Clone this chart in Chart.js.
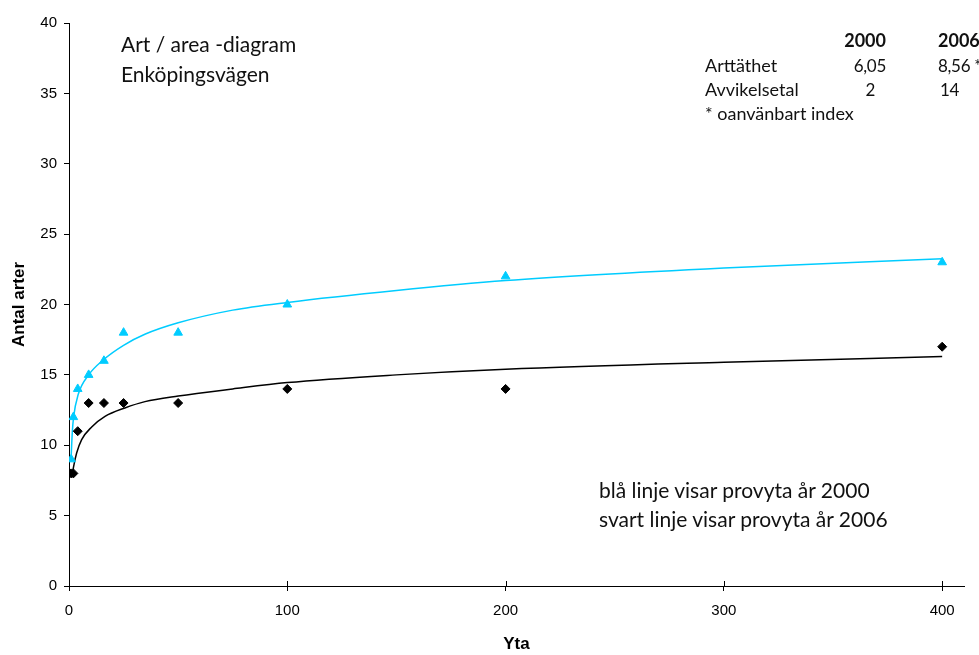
<!DOCTYPE html>
<html>
<head>
<meta charset="utf-8">
<script src="https://cdn.jsdelivr.net/npm/chart.js@4"></script>
<style>
  html, body { margin: 0; padding: 0; background: #fff; }
  #wrap { position: relative; width: 979px; height: 655px; overflow: hidden; }
  .note { position: absolute; font-family: Lato, "Open Sans", sans-serif; color: #111; white-space: nowrap; line-height: 1; }
  .big { font-size: 21px; }
  .tab { font-size: 18px; }
  .num { font-size: 17px; letter-spacing: -0.3px; }
  .b { font-weight: bold; }
</style>
</head>
<body>
<div id="wrap">
  <canvas id="graf" width="979" height="655"></canvas>

  <div class="note big" style="left:121px; top:33px;">Art / area -diagram</div>
  <div class="note big" style="left:121px; top:63px;">Enköpingsvägen</div>

  <div class="note tab b" style="right:93px; top:31px;">2000</div>
  <div class="note tab b" style="left:938px; top:31px;">2006</div>
  <div class="note tab" style="left:705px; top:56px;">Arttäthet</div>
  <div class="note num" style="right:93px; top:57px;">6,05</div>
  <div class="note num" style="left:938px; top:57px;">8,56 *</div>
  <div class="note tab" style="left:705px; top:80px;">Avvikelsetal</div>
  <div class="note num" style="right:104px; top:81px;">2</div>
  <div class="note num" style="left:940px; top:81px;">14</div>
  <div class="note tab" style="left:705px; top:104px;">* oanvänbart index</div>

  <div class="note big" style="left:599px; top:479px;">blå linje visar provyta år 2000</div>
  <div class="note big" style="left:599px; top:508px;">svart linje visar provyta år 2006</div>
</div>
<script>
// provytor (m2) och antal arter
const yta = [1, 2, 4, 9, 16, 25, 50, 100, 200, 400];
const arter2000 = [9, 12, 14, 15, 16, 18, 18, 20, 22, 23];
const arter2006 = [8, 8, 11, 13, 13, 13, 13, 14, 14, 17];

// trendlinjer, avlästa längs kurvorna i bilden
const trendYta2000 = [0.9, 1.5, 2.1, 4.2, 9, 16, 25, 35, 50, 75, 100, 150, 200, 300, 400];
const trend2000 = [8.85, 10.9, 12.0, 13.6, 15.0, 16.1, 17.1, 17.9, 18.7, 19.6, 20.15, 21.0, 21.7, 22.6, 23.25];
const trendYta2006 = [1.5, 2, 3.5, 5.8, 10.4, 16.5, 25.6, 34.8, 50, 75, 100, 150, 200, 300, 400];
const trend2006 = [7.9, 8.4, 9.45, 10.4, 11.3, 12.05, 12.65, 13.1, 13.5, 14.0, 14.45, 15.0, 15.4, 15.9, 16.3];

const xTicks = [0, 100, 200, 300, 400];
const yTicks = [0, 5, 10, 15, 20, 25, 30, 35, 40];

const par = (xs, ys) => xs.map((x, i) => ({ x: x, y: ys[i] }));

const BLA = "#00ccff";
const TYP = "'Liberation Sans', Arial, sans-serif";

// korta streck ovanför x-axeln (korsande tickmarkeringar)
const korsStreck = {
    id: "korsStreck",
    afterDraw(chart) {
        const sx = chart.scales.x;
        const ctx = chart.ctx;
        const y0 = chart.chartArea.bottom;
        ctx.save();
        ctx.strokeStyle = "#000";
        ctx.lineWidth = 1;
        sx.ticks.forEach(t => {
            const px = Math.round(sx.getPixelForValue(t.value)) + 0.5;
            ctx.beginPath();
            ctx.moveTo(px, y0);
            ctx.lineTo(px, y0 - 5);
            ctx.stroke();
        });
        ctx.restore();
    }
};

new Chart(document.getElementById("graf"), {
    type: "scatter",
    data: {
        datasets: [
            {
                label: "trend 2000",
                data: par(trendYta2000, trend2000),
                showLine: true,
                borderColor: BLA,
                borderWidth: 1.5,
                pointRadius: 0,
                cubicInterpolationMode: "monotone",
                order: 3
            },
            {
                label: "trend 2006",
                data: par(trendYta2006, trend2006),
                showLine: true,
                borderColor: "#000",
                borderWidth: 1.5,
                pointRadius: 0,
                cubicInterpolationMode: "monotone",
                order: 4
            },
            {
                label: "2000",
                data: par(yta, arter2000),
                pointStyle: "triangle",
                pointRadius: 5,
                backgroundColor: BLA,
                borderColor: BLA,
                borderWidth: 1,
                order: 1
            },
            {
                label: "2006",
                data: par(yta, arter2006),
                pointStyle: "rectRot",
                pointRadius: 4.5,
                backgroundColor: "#000",
                borderColor: "#000",
                borderWidth: 1,
                order: 2
            }
        ]
    },
    options: {
        responsive: false,
        animation: false,
        layout: { padding: { top: 23, right: 15, left: 0, bottom: 0 } },
        plugins: {
            legend: { display: false },
            tooltip: { enabled: false }
        },
        scales: {
            x: {
                type: "linear",
                min: 0,
                max: 410,
                afterFit: s => { s.height = 69; },
                afterBuildTicks: s => { s.ticks = xTicks.map(v => ({ value: v })); },
                grid: { drawOnChartArea: false, color: "#000", tickLength: 5 },
                border: { color: "#000", width: 1 },
                ticks: { color: "#000", padding: 11, font: { family: TYP, size: 15 } },
                title: {
                    display: true,
                    text: "Yta",
                    color: "#000",
                    padding: { top: 0, bottom: 0 },
                    font: { family: TYP, size: 17, weight: "bold" }
                }
            },
            y: {
                min: 0,
                max: 40,
                afterFit: s => { s.width = 69; },
                afterBuildTicks: s => { s.ticks = yTicks.map(v => ({ value: v })); },
                grid: { drawOnChartArea: false, color: "#000", tickLength: 5 },
                border: { color: "#000", width: 1 },
                ticks: { color: "#000", padding: 7, font: { family: TYP, size: 15 } },
                title: {
                    display: true,
                    text: "Antal arter",
                    color: "#000",
                    padding: { top: 9, bottom: 0 },
                    font: { family: TYP, size: 17, weight: "bold" }
                }
            }
        }
    },
    plugins: [korsStreck]
});
</script>
</body>
</html>
